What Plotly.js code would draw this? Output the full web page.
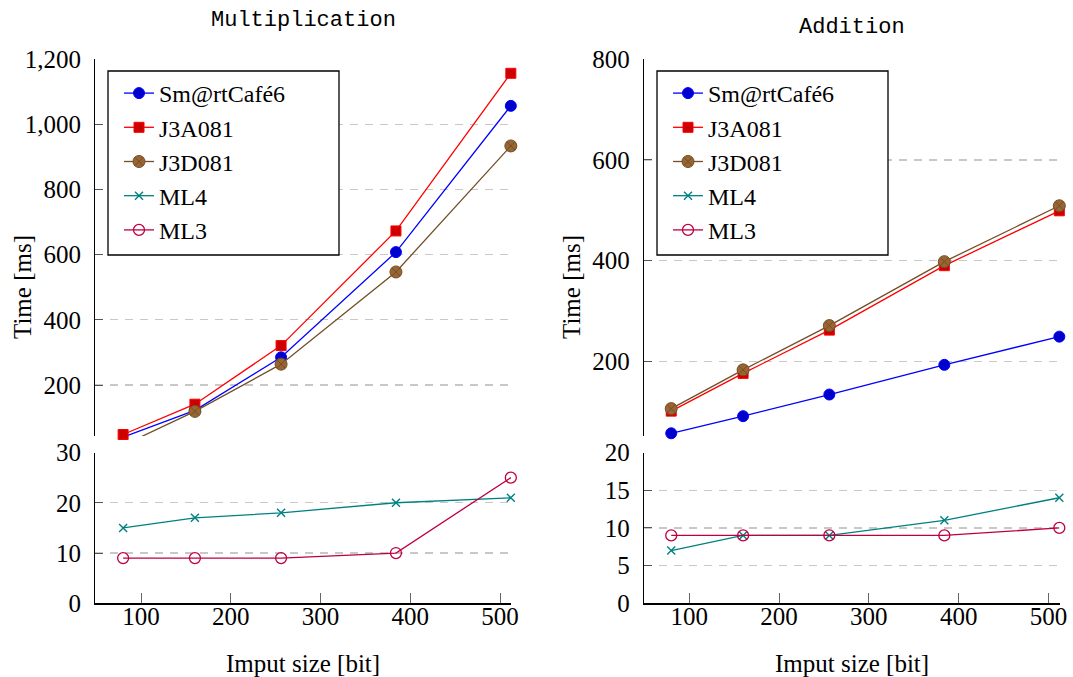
<!DOCTYPE html>
<html><head><meta charset="utf-8">
<script src="https://cdn.plot.ly/plotly-3.0.1.min.js"></script>
<style>html,body{margin:0;padding:0;background:#fff}#chart{width:1073px;height:677px}</style>
</head><body><div id="chart"></div>
<script>
// ---- data ----
const inputBits = [80, 160, 256, 384, 512];
const seriesNames = ['Sm@rtCafé6', 'J3A081', 'J3D081', 'ML4', 'ML3'];
// Multiplication [ms]
const mulSmartCafe6 = [40, 122, 285, 608, 1057];
const mulJ3A081 = [48, 141, 321, 673, 1157];
const mulJ3D081 = [15, 119, 264, 547, 934];
const mulML4 = [15, 17, 18, 20, 21];
const mulML3 = [9, 9, 9, 10, 25];
// Addition [ms]
const addSmartCafe6 = [57, 91, 134, 193, 249];
const addJ3A081 = [101, 176, 262, 390, 499];
const addJ3D081 = [106, 183, 271, 398, 509];
const addML4 = [7, 9, 9, 11, 14];
const addML3 = [9, 9, 9, 9, 10];
const xTickVals = [100, 200, 300, 400, 500];
const titles = ['Multiplication', 'Addition'];
const xTitle = 'Imput size [bit]';
const yTitle = 'Time [ms]';

// ---- styles ----
const styles = [
  {line: '#0000ff', marker: {symbol: 'circle', size: 11, color: '#0000cc', line: {color: '#0000ff', width: 1}}},
  {line: '#ff0000', marker: {symbol: 'square', size: 10, color: '#cc0000', line: {color: '#ff0000', width: 1}}},
  {line: '#734d26', marker: {symbol: 'circle-x', size: 12, color: '#996633', line: {color: '#734d26', width: 1}}},
  {line: '#008080', marker: {symbol: 'x-thin', size: 8, color: '#008080', line: {color: '#008080', width: 1.4}}},
  {line: '#bf0040', marker: {symbol: 'circle-open', size: 11, color: '#bf0040', line: {color: '#bf0040', width: 1.3}}}
];

const W = 1073, H = 677;
const px = v => v / W;
const py = v => 1 - v / H;

function mk(i, ys, xa, ya, legend) {
  return {
    type: 'scatter', mode: 'lines+markers', name: seriesNames[i],
    x: inputBits, y: ys, xaxis: xa, yaxis: ya, legend: legend,
    line: {color: styles[i].line, width: 1.3},
    marker: styles[i].marker, cliponaxis: false, showlegend: true
  };
}

const data = [
  mk(0, mulSmartCafe6, 'x2', 'y2', 'legend'),
  mk(1, mulJ3A081, 'x2', 'y2', 'legend'),
  mk(2, mulJ3D081, 'x2', 'y2', 'legend'),
  mk(3, mulML4, 'x', 'y', 'legend'),
  mk(4, mulML3, 'x', 'y', 'legend'),
  mk(0, addSmartCafe6, 'x4', 'y4', 'legend2'),
  mk(1, addJ3A081, 'x4', 'y4', 'legend2'),
  mk(2, addJ3D081, 'x4', 'y4', 'legend2'),
  mk(3, addML4, 'x3', 'y3', 'legend2'),
  mk(4, addML3, 'x3', 'y3', 'legend2')
];

const tickFont = {family: 'Liberation Serif, serif', size: 25, color: '#000'};
const domL = [px(95.3), px(511.1)];
const domR = [px(644), px(1059.6)];
const domTop = [py(436), py(59.3)];
const domBot = [py(603.3), py(452.5)];

function xBottom(dom, anchor, r0) {
  return {domain: dom, anchor: anchor, range: [r0, 512.3], tickmode: 'array', tickvals: xTickVals,
    ticks: 'inside', ticklen: 10, tickcolor: '#666', showline: true, linecolor: '#000', linewidth: 1.2,
    showgrid: false, zeroline: false, tickfont: tickFont, ticklabelstandoff: -10, fixedrange: true};
}
function xHidden(dom, anchor, r0) {
  return {domain: dom, anchor: anchor, range: [r0, 512.3], visible: false, fixedrange: true};
}
function yAxis(dom, anchor, range, dtick) {
  return {domain: dom, anchor: anchor, range: range, dtick: dtick, tick0: 0, tickformat: ',d',
    ticks: 'inside', ticklen: 8, tickcolor: '#555', showline: true, linecolor: '#000', linewidth: 1.2,
    showgrid: true, gridcolor: '#c8c8c8', gridwidth: 1.2, griddash: '8px,7px', zeroline: false,
    tickfont: tickFont, ticklabelstandoff: 8, fixedrange: true};
}

const legendBase = {
  xanchor: 'left', yanchor: 'top', bgcolor: 'rgba(0,0,0,0)', borderwidth: 0,
  font: {family: 'Liberation Serif, serif', size: 24, color: '#000'}, traceorder: 'normal'
};

const annFont = {family: 'Liberation Serif, serif', size: 25, color: '#000'};
const titleFont = {family: 'Liberation Mono, monospace', size: 22, color: '#000'};

function ann(text, x, y, font, angle) {
  return {text: text, x: px(x), y: py(y), xref: 'paper', yref: 'paper', xanchor: 'center', yanchor: 'middle',
    showarrow: false, font: font, textangle: angle || 0};
}

function legendBox(x0, y0, x1, y1) {
  return {type: 'rect', xref: 'paper', yref: 'paper', x0: px(x0), x1: px(x1), y0: py(y1), y1: py(y0),
    line: {color: '#000', width: 1.3}, fillcolor: '#fff', layer: 'above'};
}

const layout = {
  width: W, height: H, margin: {l: 0, r: 0, t: 0, b: 0},
  paper_bgcolor: '#fff', plot_bgcolor: 'rgba(0,0,0,0)', showlegend: true,
  separators: '.,',
  xaxis: xBottom(domL, 'y', 49),
  yaxis: yAxis(domBot, 'x', [0, 30], 10),
  xaxis2: xHidden(domL, 'y2', 49),
  yaxis2: yAxis(domTop, 'x2', [43.4, 1200], 200),
  xaxis3: xBottom(domR, 'y3', 49.7),
  yaxis3: yAxis(domBot, 'x3', [0, 20], 5),
  xaxis4: xHidden(domR, 'y4', 49.7),
  yaxis4: yAxis(domTop, 'x4', [51.6, 800], 200),
  legend: Object.assign({}, legendBase, {x: px(119), y: py(71)}),
  legend2: Object.assign({}, legendBase, {x: px(668), y: py(71)}),
  shapes: [legendBox(108, 71, 339, 255), legendBox(657, 71, 888, 255)],
  annotations: [
    ann(titles[0], 303, 21, titleFont),
    ann(titles[1], 851.8, 27.5, titleFont),
    ann(yTitle, 22, 287, annFont, -90),
    ann(yTitle, 571, 287, annFont, -90),
    ann(xTitle, 303, 663, annFont),
    ann(xTitle, 851.8, 663, annFont)
  ]
};

Plotly.newPlot('chart', data, layout, {staticPlot: true, displayModeBar: false});
</script>
</body></html>
